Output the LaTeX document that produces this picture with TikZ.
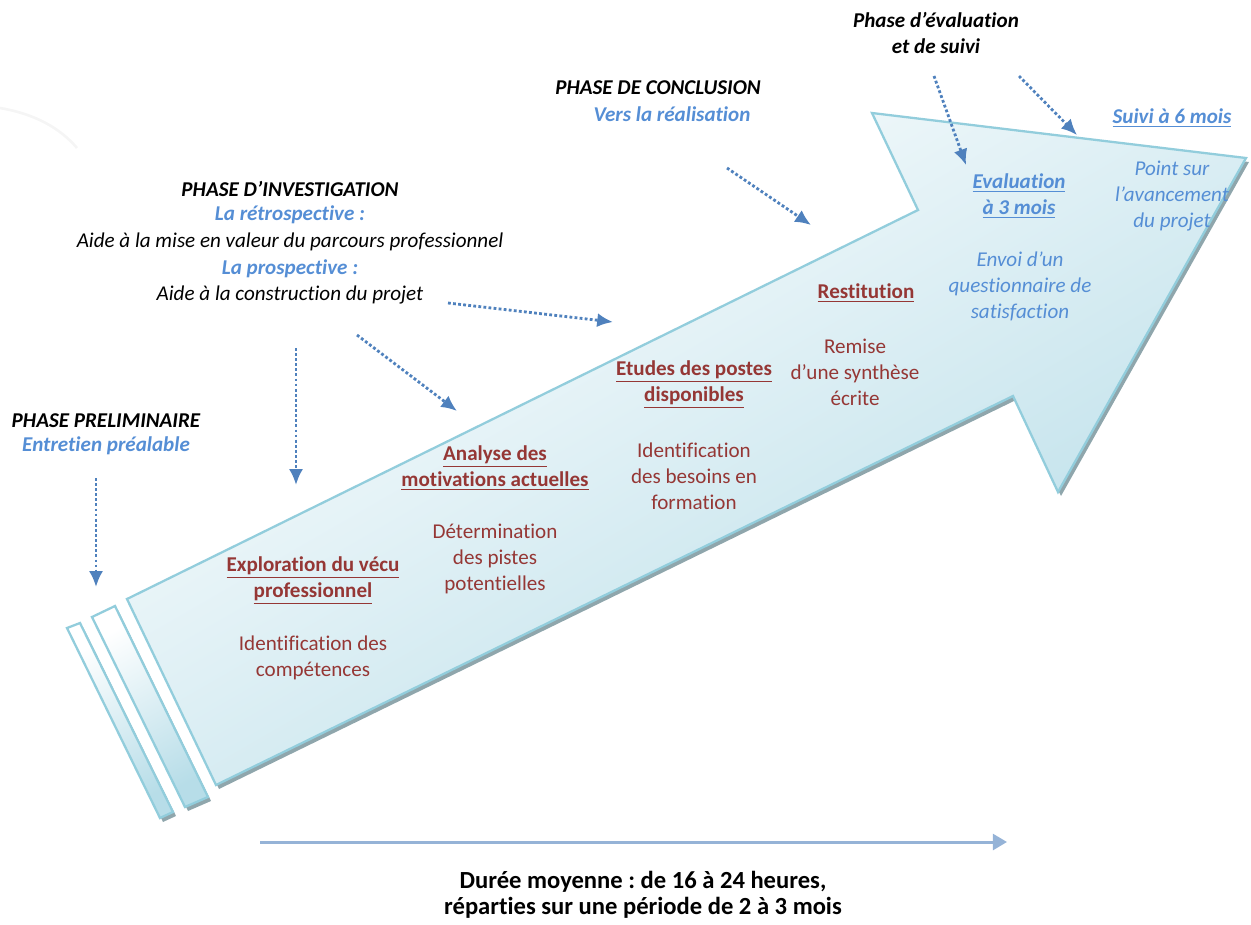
\documentclass[tikz,border=0pt]{standalone}
\usepackage{fontspec}
\setmainfont{Carlito}[Ligatures=NoCommon]
\frenchspacing
\usetikzlibrary{arrows.meta}
\definecolor{arrowedge}{HTML}{92CDDC}
\definecolor{arrowfill}{HTML}{B7DDE8}
\definecolor{arrowshadow}{HTML}{8FA6AC}
\definecolor{stepred}{HTML}{953735}
\definecolor{phaseblue}{HTML}{558ED5}
\definecolor{dotblue}{HTML}{4F81BD}
\definecolor{timeblue}{HTML}{95B3D7}
\tikzset{>={Latex[length=9pt,width=8pt]}}
\tikzset{
  txt/.style={align=center, inner sep=0pt, font=\fontsize{12}{14.8}\selectfont},
  phase/.style={txt, font=\fontsize{12}{14.8}\selectfont\bfseries\itshape},
  sub/.style={phase, text=phaseblue},
  note/.style={txt, text=phaseblue, font=\fontsize{12}{14.8}\selectfont\itshape},
  steptitle/.style={txt, text=stepred, font=\fontsize{12}{14.8}\selectfont\bfseries},
  stepbody/.style={txt, text=stepred},
  pointer/.style={->, dotblue, line width=1.6pt, dash pattern=on 1.6pt off 1.3pt},
  % outlines of the big arrow and of its two strips
  bigarrow/.style={insert path={(127,599) -- (918,210) -- (872,113) -- (1246,158)
    -- (1058,492) -- (1013,396) -- (216,785) -- cycle}},
  stripA/.style={insert path={(67,628) -- (80,623) -- (173,812) -- (160,818) -- cycle}},
  stripB/.style={insert path={(92,617) -- (115,606) -- (208,797) -- (185,807) -- cycle}},
  glass/.style={top color=white, bottom color=arrowfill, shading angle=30,
    draw=arrowedge, line width=1.3pt, line join=miter},
}
\begin{document}
\begin{tikzpicture}[x=0.02cm, y=-0.02cm]
		\useasboundingbox (0,0) rectangle (1251,924);

		% faint mark in the corner
		\draw[black!4, line width=1.5pt] (0,108) .. controls (35,114) and (60,128) .. (77,148);

		% shadows
		\foreach \part in {bigarrow, stripA, stripB}
			\fill[arrowshadow, shift={(3,4)}, \part];

		% the arrow
		\shadedraw[glass, stripA];
		\shadedraw[glass, stripB];
		\shadedraw[glass, bigarrow];

		% phases above the arrow
		\node[phase] (prelim) at (106,421) {PHASE PRELIMINAIRE};
		\node[sub] (prelimsub) at (106,446) {Entretien préalable};

		\node[phase] (invest) at (290,189) {PHASE D’INVESTIGATION};
		\node[sub] (retro) at (290,215) {La rétrospective :};
		\node[txt, font=\fontsize{12}{14.8}\selectfont\itshape] (retrotxt) at (290,242)
			{Aide à la mise en valeur du parcours professionnel};
		\node[sub] (prosp) at (290,269) {La prospective :};
		\node[txt, font=\fontsize{12}{14.8}\selectfont\itshape] (prosptxt) at (290,295)
			{Aide à la construction du projet};

		\node[phase] (concl) at (658,88) {PHASE DE CONCLUSION};
		\node[sub] (conclsub) at (672,114) {Vers la réalisation};

		\node[phase] (evalphase) at (936,33) {Phase d’évaluation\\et de suivi};
		\node[sub] (suivi) at (1172,118) {\underline{Suivi à 6 mois}};

		% steps inside the arrow
		\node[steptitle] (explo) at (313,581) {\underline{Exploration du vécu}\\\underline{professionnel}};
		\node[stepbody] (explotxt) at (313,658) {Identification des\\compétences};

		\node[steptitle] (analyse) at (495,468) {\underline{Analyse des}\\\underline{motivations actuelles}};
		\node[stepbody] (analysetxt) at (495,559) {Détermination\\des pistes\\potentielles};

		\node[steptitle] (etudes) at (694,385) {\underline{Etudes des postes}\\\underline{disponibles}};
		\node[stepbody] (etudestxt) at (694,476) {Identification\\des besoins en\\formation};

		\node[steptitle] (restit) at (866,293) {\underline{Restitution}};
		\node[stepbody] (restittxt) at (855,372) {Remise\\d’une synthèse\\écrite};

		\node[sub] (evalstep) at (1019,196) {\underline{Evaluation}\\\underline{à 3 mois}};
		\node[note] (evaltxt) at (1020,286) {Envoi d’un\\questionnaire de\\satisfaction};
		\node[note] (pointtxt) at (1172,196) {Point sur\\l’avancement\\du projet};

		% dotted pointers
		\coordinate (pre1) at (96,478);   \coordinate (pre2) at (96,587);
		\coordinate (inv1) at (296,348);  \coordinate (inv2) at (296,485);
		\coordinate (inv3) at (357,335);  \coordinate (inv4) at (457,411);
		\coordinate (inv5) at (448,303);  \coordinate (inv6) at (613,322);
		\coordinate (con1) at (727,168);  \coordinate (con2) at (811,225);
		\coordinate (ev1) at (934,76);    \coordinate (ev2) at (966,165);
		\coordinate (ev3) at (1019,76);   \coordinate (ev4) at (1077,135);
		\draw[pointer] (pre1) -- (pre2);
		\draw[pointer] (inv1) -- (inv2);
		\draw[pointer] (inv3) -- (inv4);
		\draw[pointer] (inv5) -- (inv6);
		\draw[pointer] (con1) -- (con2);
		\draw[pointer] (ev1) -- (ev2);
		\draw[pointer] (ev3) -- (ev4);

		% duration
		\coordinate (t0) at (260,842);
		\coordinate (t1) at (1007,842);
		\draw[timeblue, line width=1.7pt, -{Triangle[length=8pt,width=9pt]}] (t0) -- (t1);
		\node[phase, font=\fontsize{14}{14.8}\selectfont\bfseries] (duree) at (643,895)
			{Durée moyenne : de 16 à 24 heures,\\réparties sur une période de 2 à 3 mois};
	\end{tikzpicture}
\end{document}
